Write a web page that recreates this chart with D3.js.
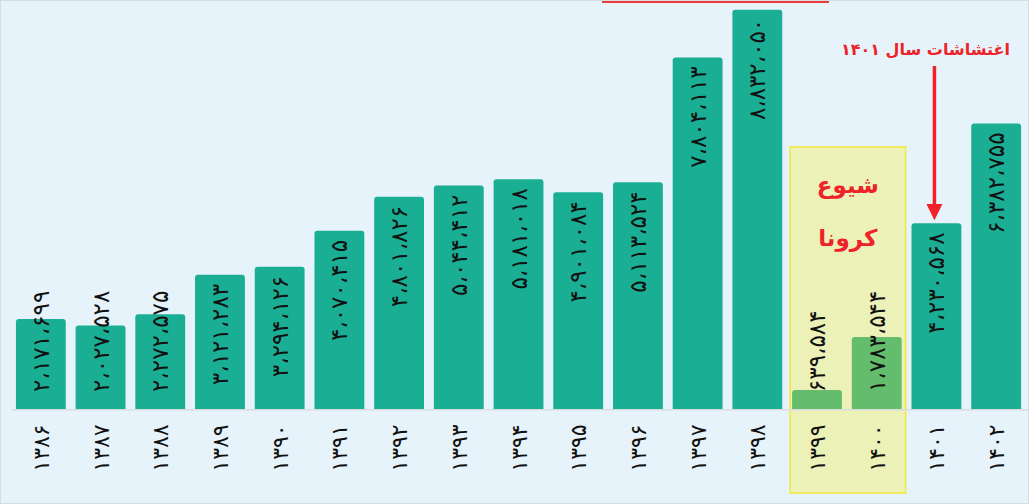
<!DOCTYPE html>
<meta charset="utf-8">
<title>chart</title>
<style>
  body { margin:0; background:#e6f3fa; }
  svg { display:block; }
  .val, .yr { font-family:"DejaVu Sans", sans-serif; fill:#111; }
  .note { font-family:"DejaVu Sans", sans-serif; font-weight:bold; fill:#ee2228; }
</style>
<body>
<svg id="chart" width="1029" height="504"></svg>
<script src="https://cdn.jsdelivr.net/npm/d3@7"></script>
<script>
// years (solar hijri) and values
var years = ["۱۳۸۶","۱۳۸۷","۱۳۸۸","۱۳۸۹","۱۳۹۰","۱۳۹۱","۱۳۹۲","۱۳۹۳","۱۳۹۴","۱۳۹۵","۱۳۹۶","۱۳۹۷","۱۳۹۸","۱۳۹۹","۱۴۰۰","۱۴۰۱","۱۴۰۲"];
var values = [2171699, 2027528, 2272575, 3121283, 3294126, 4070415, 4801826, 5044412, 5181018, 4901084, 5113524, 7804113, 8832050, 639584, 1783544, 4230568, 6382755];
var coronaYears = ["۱۳۹۹","۱۴۰۰"];
var arrowYear = "۱۴۰۱";
var noteArrow = "اغتشاشات سال ۱۴۰۱";
var noteCorona = ["شیوع", "کرونا"];

var svg = d3.select("#chart"),
    width = +svg.attr("width"),
    height = +svg.attr("height");
var base = 409;

function fa(n) {
  var s = d3.format(",")(n).replace(/,/g, "،");
  return s.replace(/[0-9]/g, function(c){ return "۰۱۲۳۴۵۶۷۸۹"[+c]; });
}

var x = d3.scaleBand()
    .domain(years)
    .range([11, 1026])
    .paddingInner(0.165)
    .paddingOuter(0.0825);

var y = d3.scaleLinear()
    .domain([230000, 9000000])
    .range([base, 2]);

svg.append("rect").attr("x", 0.5).attr("y", 0.5).attr("width", width - 1).attr("height", height - 1)
    .attr("fill", "#e6f3fa").attr("stroke", "#d4dde2");

// red underline at top (cut-off title)
svg.append("line").attr("x1", 602).attr("x2", 829).attr("y1", 2).attr("y2", 2)
    .attr("stroke", "#ee3a3f").attr("stroke-width", 2);

var data = years.map(function(d, i){ return {year:d, v:values[i], corona: coronaYears.indexOf(d) >= 0}; });

// corona box behind
var bx0 = x(coronaYears[0]) - 2, bx1 = x(coronaYears[1]) + x.bandwidth() + 4;
svg.append("rect").attr("x", bx0).attr("y", 147).attr("width", bx1 - bx0).attr("height", 346)
    .attr("fill", "#ecf1b8").attr("stroke", "#f2e83c").attr("stroke-width", 1.5);

// bars with rounded top corners only
function barPath(d) {
  var x0 = x(d.year), w = x.bandwidth(), t = y(d.v), r = 3;
  return "M" + x0 + "," + base +
    "V" + (t + r) + "Q" + x0 + "," + t + " " + (x0 + r) + "," + t +
    "H" + (x0 + w - r) + "Q" + (x0 + w) + "," + t + " " + (x0 + w) + "," + (t + r) +
    "V" + base + "Z";
}
svg.selectAll("path.bar").data(data).enter().append("path")
    .attr("class", "bar")
    .attr("d", barPath)
    .attr("fill", function(d){ return d.corona ? "#64bd6d" : "#1aae94"; });

svg.append("line").attr("x1", 12).attr("x2", width).attr("y1", base + 0.75).attr("y2", base + 0.75)
    .attr("stroke", "#d7dde0").attr("stroke-width", 1.5);

// value labels, rotated
svg.selectAll("text.val").data(data).enter().append("text")
    .attr("class", "val")
    .attr("font-size", 23)
    .attr("fill", function(d){ return d.corona ? "#4a4a1c" : "#111"; })
    .attr("text-anchor", "end")
    .text(function(d){ return fa(d.v); })
    .each(function(d){
      var len = this.getComputedTextLength();
      var top = Math.min(y(d.v) + 9, base - 17 - len);
      var cx = x(d.year) + x.bandwidth() / 2 + 8;
      d3.select(this).attr("transform", "translate(" + cx + "," + top + ") rotate(-90)");
    });

// year labels
svg.selectAll("text.yr").data(data).enter().append("text")
    .attr("class", "yr")
    .attr("font-size", 22)
    .attr("fill", function(d){ return d.corona ? "#4a4a1c" : "#111"; })
    .attr("text-anchor", "middle")
    .attr("transform", function(d){ return "translate(" + (x(d.year) + x.bandwidth() / 2 + 8) + ",448) rotate(-90)"; })
    .text(function(d){ return d.year; });

// corona note
svg.selectAll("text.cor").data(noteCorona).enter().append("text")
    .attr("class", "note")
    .attr("font-size", 23)
    .attr("text-anchor", "middle")
    .attr("direction", "rtl")
    .attr("x", (bx0 + bx1) / 2)
    .attr("y", function(d, i){ return 193 + i * 53; })
    .text(function(d){ return d; });

// arrow note
var ax = x(arrowYear) + x.bandwidth() / 2 - 2;
svg.append("text").attr("class", "note")
    .attr("font-size", 16)
    .attr("text-anchor", "middle")
    .attr("direction", "rtl")
    .attr("x", ax - 9).attr("y", 55)
    .text(noteArrow);
svg.append("line").attr("x1", ax).attr("x2", ax).attr("y1", 66).attr("y2", 206)
    .attr("stroke", "#ee2228").attr("stroke-width", 3.5);
svg.append("path")
    .attr("d", "M" + (ax - 8) + ",204 L" + (ax + 8) + ",204 L" + ax + "," + (y(values[years.indexOf(arrowYear)]) - 3) + "Z")
    .attr("fill", "#ee2228");
</script>
</body>
